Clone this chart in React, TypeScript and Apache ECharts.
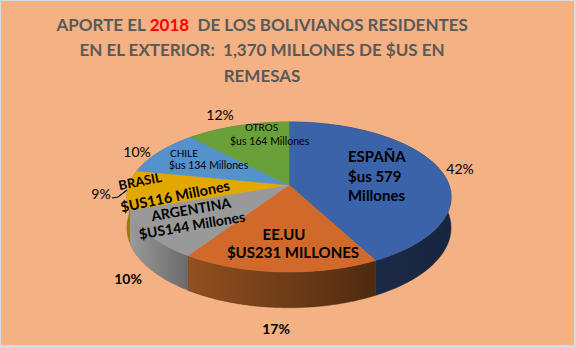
import React, { useEffect, useRef } from 'react';
import * as echarts from 'echarts';

// ---- data ----
const categories = ['ESPAÑA', 'EE.UU', 'ARGENTINA', 'BRASIL', 'CHILE', 'OTROS'];
const values = [579, 231, 144, 116, 134, 164];
const percentLabels = ['42%', '17%', '10%', '9%', '10%', '12%'];
const amountLabels = ['$us 579 Millones', '$US231 MILLONES', '$US144 Millones', '$US116 Millones', '$us 134 Millones', '$us 164 Millones'];
const titleLines = ['APORTE EL ', '2018', '  DE LOS BOLIVIANOS RESIDENTES', 'EN EL EXTERIOR:  1,370 MILLONES DE $US EN', 'REMESAS'];

// ---- styles ----
const topColors = ['#3A63AA', '#D0692A', '#999999', '#E3A800', '#5592CC', '#6AA03A'];
const sideColors: [string, string][] = [
  ['#1E2F50', '#18253F'],
  ['#935020', '#4E2A10'],
  ['#9A9A9A', '#6A6A6A'],
  ['#A67B00', '#8A6600'],
  ['#3C6A96', '#2E5276'],
  ['#4C7529', '#3E6020'],
];
const FONT = 'Lato, "Open Sans", sans-serif';

// projection of the 3D disc
const CX = 289, CY = 185, A = 73.1, B = 160, P = 0.16, H = 30;
function proj(theta: number, d: number): number[] {
  const X = Math.sin(theta), Z = Math.cos(theta);
  const w = 1 + P * Z;
  return [CX + (B * X) / w, CY + (-A * Z + H * d) / w];
}

const total = values.reduce((s, v) => s + v, 0);
const starts: number[] = [];
{
  let acc = 0;
  values.forEach((v) => { starts.push(acc); acc += v; });
}

function angles(i: number, v: number) {
  const a0 = (starts[i] / total) * Math.PI * 2;
  const a1 = a0 + (v / total) * Math.PI * 2;
  return [a0, a1];
}

const N = 80;

export default function App() {
  const ref = useRef<HTMLDivElement>(null);
  useEffect(() => {
    if (!ref.current) return;
    const chart = echarts.init(ref.current, undefined, { renderer: 'svg' });

    const renderTop = (params: any, api: any) => {
      const i = params.dataIndex;
      const [a0, a1] = angles(i, api.value(0));
      const pts: number[][] = [[CX, CY]];
      for (let k = 0; k <= N; k++) pts.push(proj(a0 + ((a1 - a0) * k) / N, 0));
      return {
        type: 'polygon',
        shape: { points: pts },
        style: { fill: topColors[i], stroke: topColors[i], lineWidth: 0.6 },
      };
    };
    const renderSide = (params: any, api: any) => {
      const i = params.dataIndex;
      const [a0, a1] = angles(i, api.value(0));
      const top: number[][] = [];
      const bot: number[][] = [];
      for (let k = 0; k <= N; k++) {
        const t = a0 + ((a1 - a0) * k) / N;
        top.push(proj(t, 0));
        bot.push(proj(t, 1));
      }
      const pts = top.concat(bot.reverse());
      const fill = new echarts.graphic.LinearGradient(0, 0, 1, 0, [
        { offset: 0, color: sideColors[i][0] },
        { offset: 1, color: sideColors[i][1] },
      ]);
      return {
        type: 'polygon',
        shape: { points: pts },
        style: { fill, stroke: sideColors[i][1], lineWidth: 0.4 },
      };
    };

    const txt = (text: string, x: number, y: number, size: number, bold: boolean, align = 'center', rotation = 0, fill = '#000') => ({
      type: 'text',
      x, y, rotation,
      z: 10,
      style: {
        text, x: 0, y: 0, fill,
        font: `${bold ? 'bold ' : ''}${size}px ${FONT}`,
        align, verticalAlign: 'middle',
      },
    });

    const espSplit = amountLabels[0].split(' ');
    const graphics: any[] = [
      { type: 'rect', shape: { x: 1, y: 1, width: 573, height: 344 }, style: { fill: '#F4B183' }, z: -10 },
      {
        type: 'text', x: 262, y: 11.5, z: 10,
        style: {
          text: `{g|${titleLines[0]}}{r|${titleLines[1]}}{g|${titleLines[2]}}\n{g|${titleLines[3]}}\n{g|${titleLines[4]}}`,
          align: 'center', verticalAlign: 'top',
          rich: {
            g: { fill: '#595959', font: `bold 17px ${FONT}`, lineHeight: 25.5 },
            r: { fill: '#FF0000', font: `bold 17px ${FONT}`, lineHeight: 25.5 },
          },
        },
      },
      // inner labels
      txt(categories[0], 348, 156, 15, true, 'left'),
      txt(espSplit[0] + ' ' + espSplit[1], 348, 176, 15, true, 'left'),
      txt(espSplit[2], 348, 195, 15, true, 'left'),
      txt(categories[1], 284, 234, 15, true),
      txt(amountLabels[1], 293, 252, 15, true),
      txt(categories[2], 191, 209, 14, true, 'center', 0.17),
      txt(amountLabels[2], 192, 225, 14, true, 'center', 0.17),
      txt(categories[3], 140, 181, 13, true, 'center', 0.2),
      txt(amountLabels[3], 175, 196, 14.5, true, 'center', 0.2),
      txt(categories[4], 170, 153, 10, false, 'left'),
      txt(amountLabels[4], 169, 165, 10.5, false, 'left'),
      txt(categories[5], 245, 127, 10, false, 'left'),
      txt(amountLabels[5], 230, 141, 10.5, false, 'left'),
      // percentages
      txt(percentLabels[0], 460, 168, 14, false),
      txt(percentLabels[1], 276, 328, 14, true),
      txt(percentLabels[2], 128, 278, 14, true),
      txt(percentLabels[3], 101, 193, 14, false),
      txt(percentLabels[4], 137, 151, 14, false),
      txt(percentLabels[5], 220, 114, 14, false),
      {
        type: 'polyline', z: 10,
        shape: { points: [[112, 198], [118, 197], [127, 190]] },
        style: { stroke: '#000', lineWidth: 1.2, fill: 'none' },
      },
    ];

    chart.setOption({
      animation: false,
      backgroundColor: '#DADADA',
      graphic: graphics,
      series: [
        {
          type: 'custom', coordinateSystem: 'none', silent: true, z: 1,
          renderItem: renderSide,
          data: values.map((v, i) => ({ name: categories[i], value: [v] })),
        },
        {
          type: 'custom', coordinateSystem: 'none', silent: true, z: 2,
          renderItem: renderTop,
          data: values.map((v, i) => ({ name: categories[i], value: [v] })),
        },
      ],
    });
    return () => chart.dispose();
  }, []);
  return (
    <div style={{ position: 'fixed', left: 0, top: 0, width: 576, height: 348 }}>
      <div ref={ref} style={{ width: 576, height: 348 }} />
    </div>
  );
}
